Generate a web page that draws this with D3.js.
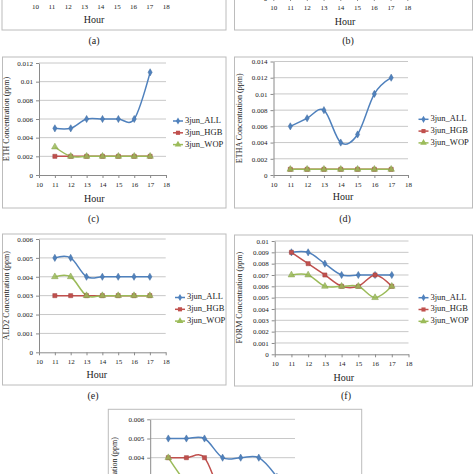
<!DOCTYPE html>
<html><head><meta charset="utf-8">
<script src="https://cdn.jsdelivr.net/npm/d3@7"></script>
<style>html,body{margin:0;padding:0;background:#fff;overflow:hidden}svg{display:block}</style>
</head><body>
<svg id="c" width="474" height="474"></svg>
<script>
// ---- data ----
const hours = [11, 12, 13, 14, 15, 16, 17];
const xTicks = [10, 11, 12, 13, 14, 15, 16, 17, 18];
const seriesNames = ["3jun_ALL", "3jun_HGB", "3jun_WOP"];
const seriesColors = ["#4F81BD", "#C0504D", "#9BBB59"];
const panelLabels = ["(a)", "(b)", "(c)", "(d)", "(e)", "(f)", ""];
const yTitles = ["PAR Concentration (ppm)", "OLE Concentration (ppm)", "ETH Concentration (ppm)",
  "ETHA Concentration (ppm)", "ALD2 Concentration (ppm)", "FORM Concentration (ppm)", "ALDX Concentration (ppm)"];
// panel (a) (only the bottom of it is visible)
const a_ALL = [0.020, 0.022, 0.024, 0.024, 0.025, 0.026, 0.030];
const a_HGB = [0.012, 0.012, 0.012, 0.012, 0.012, 0.012, 0.012];
const a_WOP = [0.014, 0.013, 0.013, 0.013, 0.013, 0.013, 0.013];
// panel (b) (only the bottom of it is visible)
const b_ALL = [0.004, 0.004, 0.005, 0.005, 0.005, 0.005, 0.006];
const b_HGB = [0.002, 0.002, 0.002, 0.002, 0.002, 0.002, 0.002];
const b_WOP = [0.003, 0.002, 0.002, 0.002, 0.002, 0.002, 0.002];
// panel (c) ETH
const c_ALL = [0.005, 0.005, 0.006, 0.006, 0.006, 0.006, 0.011];
const c_HGB = [0.002, 0.002, 0.002, 0.002, 0.002, 0.002, 0.002];
const c_WOP = [0.003, 0.002, 0.002, 0.002, 0.002, 0.002, 0.002];
// panel (d) ETHA
const d_ALL = [0.006, 0.007, 0.008, 0.004, 0.005, 0.010, 0.012];
const d_HGB = [0.0007, 0.0007, 0.0007, 0.0007, 0.0007, 0.0007, 0.0007];
const d_WOP = [0.0007, 0.0007, 0.0007, 0.0007, 0.0007, 0.0007, 0.0007];
// panel (e) ALD2
const e_ALL = [0.005, 0.005, 0.004, 0.004, 0.004, 0.004, 0.004];
const e_HGB = [0.003, 0.003, 0.003, 0.003, 0.003, 0.003, 0.003];
const e_WOP = [0.004, 0.004, 0.003, 0.003, 0.003, 0.003, 0.003];
// panel (f) FORM
const f_ALL = [0.009, 0.009, 0.008, 0.007, 0.007, 0.007, 0.007];
const f_HGB = [0.009, 0.008, 0.007, 0.006, 0.006, 0.007, 0.006];
const f_WOP = [0.007, 0.007, 0.006, 0.006, 0.006, 0.005, 0.006];
// panel (g) (only the top of it is visible)
const g_ALL = [0.005, 0.005, 0.005, 0.004, 0.004, 0.004, 0.003];
const g_HGB = [0.004, 0.004, 0.004, 0.002, 0.002, 0.002, 0.002];
const g_WOP = [0.004, 0.0027, 0.002, 0.002, 0.002, 0.002, 0.002];
const panelData = [[a_ALL, a_HGB, a_WOP], [b_ALL, b_HGB, b_WOP], [c_ALL, c_HGB, c_WOP],
  [d_ALL, d_HGB, d_WOP], [e_ALL, e_HGB, e_WOP], [f_ALL, f_HGB, f_WOP], [g_ALL, g_HGB, g_WOP]];
const yMaxes = [0.035, 0.007, 0.012, 0.014, 0.006, 0.01, 0.006];
const ySteps = [0.005, 0.001, 0.002, 0.002, 0.001, 0.001, 0.001];

// ---- layout ----
const layout = [
  {box:[2,-121,224,151], x0:35, x1:165.7, yb:-3, yt:-115, hourX:94, hourY:20.7, capX:94, capY:41.7, legX:173, legY:-60, titleX:7},
  {box:[234.5,-121,238,151], x0:273.3, x1:407.3, yb:-2, yt:-113, hourX:345, hourY:22.7, capX:348, capY:41.7, legX:418, legY:-60, titleX:240},
  {box:[2.5,57,223.5,151], x0:39, x1:166, yb:175, yt:63, hourX:94.3, hourY:200, capX:93.5, capY:220, legX:173, legY:121, titleX:7},
  {box:[234.5,57,238,151], x0:273.5, x1:408, yb:175, yt:61.5, hourX:343, hourY:197.7, capX:345, capY:220, legX:418.5, legY:119.3, titleX:240.5},
  {box:[2.5,234,223.5,151], x0:39, x1:165.7, yb:352.3, yt:239, hourX:96.7, hourY:375.7, capX:93, capY:396.7, legX:175, legY:297.5, titleX:7},
  {box:[234.5,235,238,151], x0:274.7, x1:408.5, yb:354.3, yt:241, hourX:343.7, hourY:378.3, capX:346, capY:396.7, legX:418.5, legY:297.7, titleX:240},
  {box:[108.3,409.3,253.4,160], x0:150.2, x1:295, yb:534.5, yt:419.3, hourX:222, hourY:560, capX:235, capY:600, legX:310, legY:480, titleX:115, titleEnd:437}
];

const svg = d3.select("#c");
const serif = "'Liberation Serif','Times New Roman',serif";
const fmt = d => d === 0 ? "0" : String(+d.toFixed(4));

function symbolPath(i) {
  const types = [d3.symbolDiamond, d3.symbolSquare, d3.symbolTriangle];
  const sizes = [15, 17, 19];
  return d3.symbol().type(types[i]).size(sizes[i])();
}

layout.forEach((L, p) => {
  const g = svg.append("g");
  g.append("rect").attr("x", L.box[0]).attr("y", L.box[1]).attr("width", L.box[2]).attr("height", L.box[3])
    .attr("fill", "#fff").attr("stroke", "#bcbcbc").attr("stroke-width", 1);
  const x = d3.scaleLinear().domain([10, 18]).range([L.x0, L.x1]);
  const y = d3.scaleLinear().domain([0, yMaxes[p]]).range([L.yb, L.yt]);
  const yt = d3.range(0, yMaxes[p] + ySteps[p] / 2, ySteps[p]);
  // gridlines
  g.append("g").selectAll("line").data(yt.slice(1)).join("line")
    .attr("x1", L.x0).attr("x2", L.x1).attr("y1", d => y(d)).attr("y2", d => y(d))
    .attr("stroke", "#c8c8c8").attr("stroke-width", 1);
  // axes
  const xa = g.append("g").attr("transform", `translate(0,${L.yb})`)
    .call(d3.axisBottom(x).tickValues(xTicks).tickSize(3).tickSizeOuter(0).tickPadding(4).tickFormat(d3.format("d")));
  const ya = g.append("g").attr("transform", `translate(${L.x0},0)`)
    .call(d3.axisLeft(y).tickValues(yt).tickSize(3).tickSizeOuter(0).tickPadding(3).tickFormat(fmt));
  [xa, ya].forEach(a => {
    a.select(".domain").attr("stroke", "#8a8a8a");
    a.selectAll(".tick line").attr("stroke", "#8a8a8a");
    a.selectAll("text").attr("font-family", serif).attr("font-size", 7).attr("fill", "#222");
  });
  // axis titles
  g.append("text").attr("x", L.hourX).attr("y", L.hourY).attr("text-anchor", "middle")
    .attr("dominant-baseline", "middle").attr("font-family", serif).attr("font-size", 10).attr("fill", "#222").text("Hour");
  const ty = L.titleEnd !== undefined ? L.titleEnd : (L.yb + L.yt) / 2;
  g.append("text").attr("transform", `translate(${L.titleX},${ty}) rotate(-90)`)
    .attr("text-anchor", L.titleEnd !== undefined ? "end" : "middle").attr("dominant-baseline", "middle")
    .attr("font-family", serif).attr("font-size", 8).attr("fill", "#222").text(yTitles[p]);
  // series
  const line = d3.line().x((d, i) => x(hours[i])).y(d => y(d)).curve(d3.curveCatmullRom.alpha(0));
  panelData[p].forEach((vals, s) => {
    g.append("path").attr("d", line(vals)).attr("fill", "none").attr("stroke", seriesColors[s]).attr("stroke-width", 1.5);
  });
  panelData[p].forEach((vals, s) => {
    g.append("g").selectAll("path").data(vals).join("path")
      .attr("transform", (d, i) => `translate(${x(hours[i])},${y(d)})`)
      .attr("d", symbolPath(s)).attr("fill", seriesColors[s]).attr("fill-opacity", s === 2 ? 0.85 : 1)
      .attr("stroke", d3.color(seriesColors[s]).darker(0.5)).attr("stroke-width", 0.5);
  });
  // legend
  seriesNames.forEach((name, s) => {
    const ly = L.legY + s * 11.8;
    const lg = g.append("g");
    lg.append("line").attr("x1", L.legX).attr("x2", L.legX + 10).attr("y1", ly).attr("y2", ly)
      .attr("stroke", seriesColors[s]).attr("stroke-width", 1.5);
    lg.append("path").attr("transform", `translate(${L.legX + 5},${ly})`).attr("d", symbolPath(s))
      .attr("fill", seriesColors[s]);
    lg.append("text").attr("x", L.legX + 12).attr("y", ly).attr("dominant-baseline", "middle")
      .attr("font-family", serif).attr("font-size", 8.5).attr("fill", "#222").text(name);
  });
  // caption
  if (panelLabels[p]) {
    svg.append("text").attr("x", L.capX).attr("y", L.capY).attr("text-anchor", "middle")
      .attr("dominant-baseline", "middle").attr("font-family", serif).attr("font-size", 10).attr("fill", "#222")
      .text(panelLabels[p]);
  }
});

// drop texts that lie entirely outside the 474x474 picture (they cannot be seen)
svg.selectAll("text").each(function () {
  const r = this.getBoundingClientRect();
  if (r.bottom < 0 || r.top > 474 || r.right < 0 || r.left > 474) d3.select(this).remove();
});
</script>
</body></html>
